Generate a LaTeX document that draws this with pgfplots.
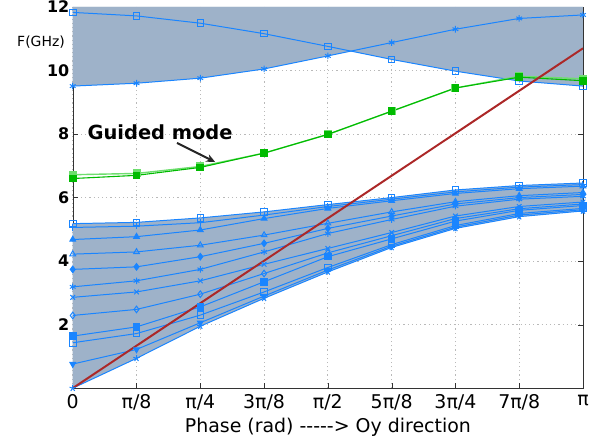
\documentclass[border=0pt]{standalone}
\usepackage{fontspec}
\setmainfont{DejaVu Sans}
\usepackage{pgfplots}
\usepackage{pgfplotstable}
\pgfplotsset{compat=1.18}
\usepgfplotslibrary{fillbetween}
\usetikzlibrary{arrows.meta}
\definecolor{band}{RGB}{158,178,201}
\definecolor{bl}{RGB}{26,133,255}
\definecolor{gdark}{RGB}{0,187,0}
\definecolor{glight}{RGB}{110,222,110}
\definecolor{rd}{RGB}{172,40,40}

\pgfplotstableread{
x        L1   L2   L3   L4   L5   L6   L7   L8   L9   L10  L11  L12
0        5.18 5.06 4.68 4.22 3.74 3.19 2.86 2.29 1.64 1.43 0.76 0.00
0.392699 5.22 5.10 4.77 4.29 3.82 3.38 3.03 2.48 1.93 1.72 1.22 0.94
0.785398 5.36 5.21 4.98 4.50 4.14 3.74 3.38 2.96 2.56 2.30 2.06 1.95
1.178097 5.55 5.45 5.34 4.82 4.56 4.29 3.90 3.61 3.35 3.03 2.90 2.83
1.570796 5.78 5.72 5.66 5.19 5.03 4.87 4.40 4.26 4.14 3.80 3.72 3.66
1.963495 6.00 5.95 5.90 5.55 5.42 5.31 4.90 4.80 4.70 4.52 4.47 4.43
2.356194 6.24 6.18 6.13 5.87 5.80 5.73 5.42 5.34 5.26 5.12 5.07 5.03
2.748894 6.38 6.33 6.28 6.06 6.00 5.95 5.72 5.65 5.60 5.50 5.45 5.40
3.141593 6.46 6.41 6.36 6.16 6.10 6.04 5.86 5.80 5.75 5.66 5.62 5.58
}\lowtab

\pgfplotstableread{
x        S     Q     G1   G2
0        9.51  11.83 6.60 6.72
0.392699 9.60  11.72 6.70 6.76
0.785398 9.76  11.49 6.95 6.98
1.178097 10.05 11.16 7.40 7.40
1.570796 10.46 10.76 7.99 7.99
1.963495 10.88 10.35 8.72 8.72
2.356194 11.30 9.98  9.45 9.45
2.748894 11.64 9.67  9.79 9.82
3.141593 11.75 9.51  9.68 9.74
}\uptab

\begin{document}
\begin{tikzpicture}
\begin{axis}[
  width=510bp, height=381bp, scale only axis,
  xmin=0, xmax=3.141593, ymin=0, ymax=12,
  xtick={0,0.392699,0.785398,1.178097,1.570796,1.963495,2.356194,2.748894,3.141593},
  xticklabels={0,π/8,π/4,3π/8,π/2,5π/8,3π/4,7π/8,π},
  ytick={2,4,6,8,10,12},
  yticklabels={2,4,6,8,10,12},
  xticklabel style={font=\fontsize{19}{20}\selectfont, yshift=-3bp},
  yticklabel style={font=\fontsize{16}{17}\selectfont\bfseries},
  grid=major,
  major grid style={dash pattern=on 1.2pt off 3pt, gray!55, line width=0.9pt},
  tick align=inside, major tick length=5bp,
  tick style={black!80},
  axis line style={black!80},
  xlabel={Phase (rad) -{}-{}-{}-{}-> Oy direction},
  xlabel style={font=\fontsize{19}{20}\selectfont, yshift=-1bp},
  every axis plot/.append style={line width=1pt},
  mark size=3.3bp,
]
\coordinate (ll) at (rel axis cs:0,0);
\coordinate (ur) at (rel axis cs:1,1);
% bands
\addplot[name path=L1, draw=none, forget plot] table[x=x,y=L1]{\lowtab};
\addplot[name path=L12, draw=none, forget plot] table[x=x,y=L12]{\lowtab};
\addplot[band, forget plot] fill between[of=L1 and L12];
\addplot[name path=S, draw=none, forget plot] table[x=x,y=S]{\uptab};
\addplot[name path=Q, draw=none, forget plot] table[x=x,y=Q]{\uptab};
\addplot[name path=T, draw=none, forget plot] coordinates {(0,12) (3.141593,12)};
\addplot[band, forget plot] fill between[of=S and T];
\addplot[band, forget plot] fill between[of=Q and T];
% lower band lines
\addplot[bl, mark=square] table[x=x,y=L1]{\lowtab};
\addplot[bl, mark=+] table[x=x,y=L2]{\lowtab};
\addplot[bl, mark=triangle*] table[x=x,y=L3]{\lowtab};
\addplot[bl, mark=triangle] table[x=x,y=L4]{\lowtab};
\addplot[bl, mark=diamond*] table[x=x,y=L5]{\lowtab};
\addplot[bl, mark=asterisk] table[x=x,y=L6]{\lowtab};
\addplot[bl, mark=x] table[x=x,y=L7]{\lowtab};
\addplot[bl, mark=diamond] table[x=x,y=L8]{\lowtab};
\addplot[bl, mark=square*] table[x=x,y=L9]{\lowtab};
\addplot[bl, mark=square] table[x=x,y=L10]{\lowtab};
\addplot[bl, mark=triangle*, mark options={rotate=180}] table[x=x,y=L11]{\lowtab};
\addplot[bl, mark=star] table[x=x,y=L12]{\lowtab};
% upper band lines
\addplot[bl, mark=asterisk] table[x=x,y=S]{\uptab};
\addplot[bl, mark=square] table[x=x,y=Q]{\uptab};
% guided mode
\addplot[glight, line width=1.4pt, mark=square*] table[x=x,y=G2]{\uptab};
\addplot[gdark, line width=1.1pt, mark=square*] table[x=x,y=G1]{\uptab};
% light line
\addplot[rd, line width=2pt] coordinates {(0,0) (3.141593,10.70)};
\node[font=\fontsize{19.5}{20}\selectfont\bfseries] at (axis cs:0.538,8.06) {Guided mode};
\draw[-{Stealth[length=9bp,width=8bp]}, line width=2pt, black!85] (axis cs:0.642,7.72) -- (axis cs:0.877,7.12);
\end{axis}
\node[font=\fontsize{14}{15}\selectfont] at ([shift={(-31.7bp,346bp)}]ll) {F(GHz)};
\pgfresetboundingbox
\path[use as bounding box] ([shift={(-72.7bp,-55bp)}]ll) rectangle ([shift={(21bp,7bp)}]ur);
\end{tikzpicture}
\end{document}
